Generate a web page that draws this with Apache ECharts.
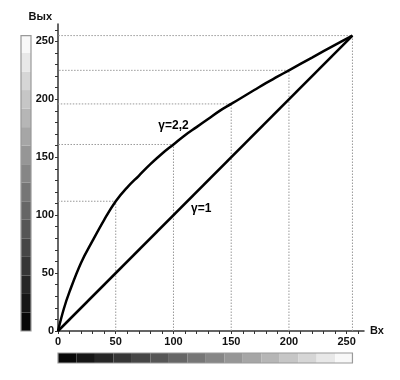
<!DOCTYPE html>
<html><head><meta charset="utf-8">
<script src="https://cdn.jsdelivr.net/npm/echarts@6/dist/echarts.min.js"></script>
<style>html,body{margin:0;padding:0;background:#fff}#c{width:400px;height:380px}</style>
</head><body><div id="c"></div>
<script>
// Gamma 2.2 curve (input -> output)
const gammaX = [0, 5, 10, 20, 30, 40, 50, 60, 70, 80, 90, 100, 110, 120, 130, 140, 150, 160, 170, 180, 190, 200, 220, 240, 255];
const gammaY = [0, 19, 34, 59, 78, 96, 112, 124, 134, 144, 153, 161, 169, 176, 183, 190, 196, 202, 208, 214, 219.5, 225, 236, 247, 255];
// Linear (gamma = 1)
const linX = [0, 255];
const linY = [0, 255];
// Guide points (dotted drop lines)
const guideX = [50, 100, 150, 200, 255];
const guideY = [112, 161, 196, 225, 255];
// Tick labels
const tickLabels = [0, 50, 100, 150, 200, 250];
const minorTicks = [0,10,20,30,40,50,60,70,80,90,100,110,120,130,140,150,160,170,180,190,200,210,220,230,240,250,260];
// Gray ramp bands (start, end, gray level)
const bandStart = [0, 16, 32, 48, 64, 80, 96, 112, 128, 144, 160, 176, 192, 208, 224, 240];
const bandEnd   = [16, 32, 48, 64, 80, 96, 112, 128, 144, 160, 176, 192, 208, 224, 240, 255];
const bandGray  = [8, 22, 38, 54, 70, 86, 102, 118, 134, 150, 166, 182, 198, 214, 232, 248];

const chart = echarts.init(document.getElementById('c'));
const font = 'Liberation Sans, Arial, sans-serif';

function grayOf(g){ return 'rgb(' + g + ',' + g + ',' + g + ')'; }

const guideSeries = guideX.map((gx, i) => ({
  type: 'line', silent: true, symbol: 'none', z: 1,
  data: [[gx, 0], [gx, guideY[i]], [0, guideY[i]]],
  lineStyle: { color: '#999', width: 1, type: [1.5, 1.5] }
}));

const option = {
  animation: false,
  grid: { left: 58, right: 36, top: 24, bottom: 49 },
  xAxis: {
    type: 'value', min: 0, max: 265,
    name: 'Вх', nameLocation: 'end', nameGap: 6,
    nameTextStyle: { color: '#111', fontWeight: 'bold', fontSize: 11, fontFamily: font, padding: [20, 0, 0, 0] },
    axisLine: { show: true, lineStyle: { color: '#333', width: 1.5 } },
    axisTick: { show: true, customValues: minorTicks, length: 3, lineStyle: { color: '#333' } },
    axisLabel: { customValues: tickLabels, color: '#111', fontWeight: 'bold', fontSize: 11, fontFamily: font, margin: 5 },
    splitLine: { show: false }
  },
  yAxis: {
    type: 'value', min: 0, max: 265,
    name: 'Вых', nameLocation: 'end', nameGap: 2,
    nameTextStyle: { color: '#111', fontWeight: 'bold', fontSize: 11, fontFamily: font, align: 'right', padding: [0, 6, 0, 0] },
    axisLine: { show: true, lineStyle: { color: '#333', width: 1.5 } },
    axisTick: { show: true, customValues: minorTicks, length: 3, lineStyle: { color: '#333' } },
    axisLabel: { customValues: tickLabels, color: '#111', fontWeight: 'bold', fontSize: 11, fontFamily: font, margin: 4 },
    splitLine: { show: false }
  },
  series: [
    ...guideSeries,
    {
      type: 'line', symbol: 'none', smooth: 0.4, z: 3,
      data: gammaX.map((x, i) => [x, gammaY[i]]),
      lineStyle: { color: '#000', width: 2.5 },
      markPoint: {
        symbol: 'circle', symbolSize: 0,
        label: { show: true, formatter: 'γ=2,2', color: '#000', fontWeight: 'bold', fontSize: 12, fontFamily: font },
        data: [{ coord: [100, 177] }]
      }
    },
    {
      type: 'line', symbol: 'none', z: 3,
      data: linX.map((x, i) => [x, linY[i]]),
      lineStyle: { color: '#000', width: 2.5 },
      markPoint: {
        symbol: 'circle', symbolSize: 0,
        label: { show: true, formatter: 'γ=1', color: '#000', fontWeight: 'bold', fontSize: 12, fontFamily: font },
        data: [{ coord: [124, 106] }]
      }
    },
    {
      // horizontal gray ramp under x axis
      type: 'custom', clip: false, silent: true, z: 2,
      data: bandStart.map((s, i) => [s, bandEnd[i], bandGray[i]]),
      renderItem: function (params, api) {
        const a = api.coord([api.value(0), 0]);
        const b = api.coord([api.value(1), 0]);
        return { type: 'rect', shape: { x: a[0], y: a[1] + 22, width: b[0] - a[0], height: 10 },
                 style: { fill: grayOf(api.value(2)) } };
      }
    },
    {
      // vertical gray ramp left of y axis
      type: 'custom', clip: false, silent: true, z: 2,
      data: bandStart.map((s, i) => [s, bandEnd[i], bandGray[i]]),
      renderItem: function (params, api) {
        const a = api.coord([0, api.value(0)]);
        const b = api.coord([0, api.value(1)]);
        return { type: 'rect', shape: { x: a[0] - 37, y: b[1], width: 10, height: a[1] - b[1] },
                 style: { fill: grayOf(api.value(2)) } };
      }
    },
    {
      // ramp borders
      type: 'custom', clip: false, silent: true, z: 2,
      data: [[0, 255]],
      renderItem: function (params, api) {
        const o = api.coord([api.value(0), api.value(0)]);
        const e = api.coord([api.value(1), api.value(1)]);
        return { type: 'group', children: [
          { type: 'rect', shape: { x: o[0], y: o[1] + 22, width: e[0] - o[0], height: 10 },
            style: { fill: 'none', stroke: '#999', lineWidth: 1.2 } },
          { type: 'rect', shape: { x: o[0] - 37, y: e[1], width: 10, height: o[1] - e[1] },
            style: { fill: 'none', stroke: '#999', lineWidth: 1.2 } }
        ] };
      }
    }
  ]
};
chart.setOption(option);
</script>
</body></html>
